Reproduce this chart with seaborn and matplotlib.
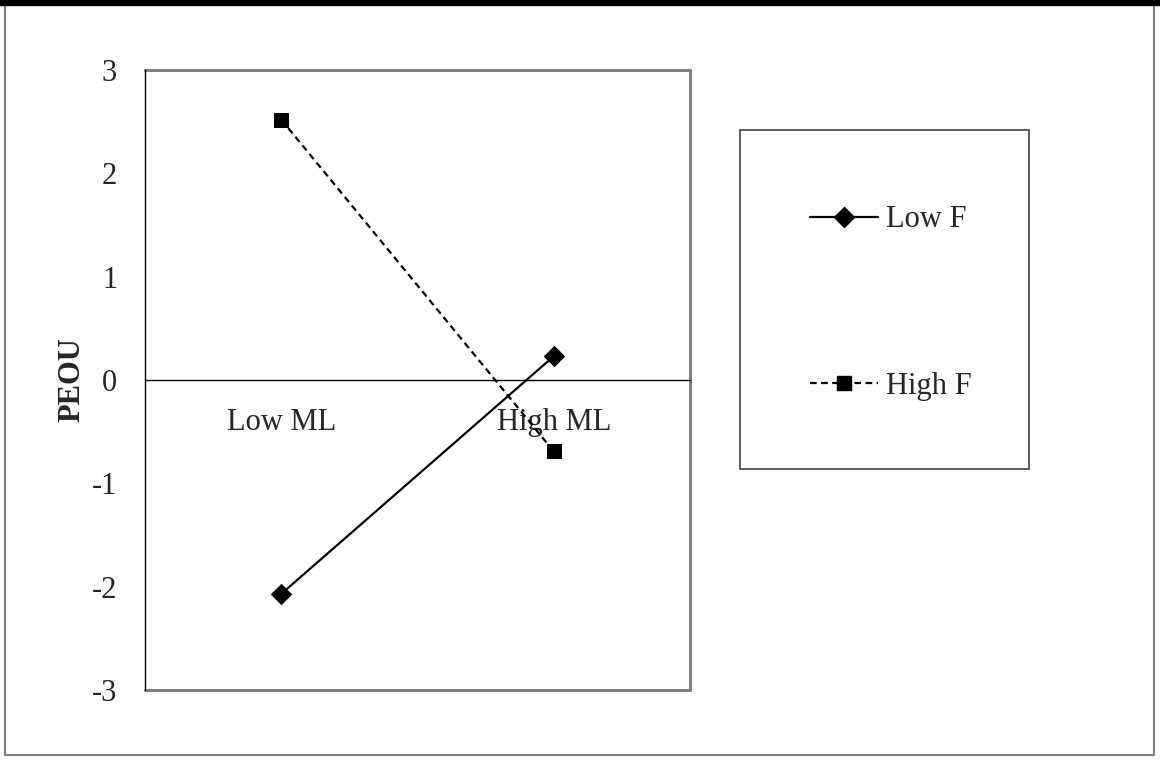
import matplotlib
matplotlib.use("Agg")
import matplotlib.pyplot as plt
import numpy as np
import pandas as pd
import seaborn as sns
from matplotlib.patches import Rectangle

# values
categories = ["Low ML", "High ML"]
low_f = [-2.07, 0.23]
high_f = [2.52, -0.69]
series_names = ["Low F", "High F"]
y_ticks = [-3, -2, -1, 0, 1, 2, 3]

df = pd.DataFrame(
    {
        "ML": categories * 2,
        "PEOU": low_f + high_f,
        "F": [series_names[0]] * 2 + [series_names[1]] * 2,
    }
)
df["pos"] = df["ML"].map({c: i for i, c in enumerate(categories)})

sns.set_style("white")
plt.rcParams["font.family"] = ["Liberation Serif", "DejaVu Serif"]
plt.rcParams["font.size"] = 22

fig = plt.figure(figsize=(11.6, 7.61), dpi=100)
ax = fig.add_axes([0.125, 0.0933, 0.4698, 0.8147])

sns.lineplot(
    data=df,
    x="pos",
    y="PEOU",
    hue="F",
    style="F",
    hue_order=series_names,
    style_order=series_names,
    palette=["black", "black"],
    markers={"Low F": "D", "High F": "s"},
    dashes={"Low F": "", "High F": (3, 2)},
    markersize=10.5,
    linewidth=1.6,
    markeredgecolor="black",
    ax=ax,
    legend=False,
)

ax.set_xlim(-0.5, 1.5)
ax.set_ylim(-3, 3)
ax.set_yticks(y_ticks)
ax.set_yticklabels([str(t) for t in y_ticks])

# category axis sits on the zero line
ax.spines["bottom"].set_position(("data", 0))
ax.spines["bottom"].set_color("black")
ax.spines["bottom"].set_linewidth(1.0)
ax.set_xticks([-0.5, 0.5, 1.5])
ax.set_xticklabels([])
ax.set_xticks(range(len(categories)), minor=True)
ax.set_xticklabels(categories, minor=True)
ax.tick_params(axis="x", which="major", direction="out", length=7, width=1, color="black")
ax.tick_params(axis="x", which="minor", length=0, pad=20, labelsize=22)
ax.tick_params(axis="y", direction="out", length=7, width=1, color="black", pad=13, labelsize=22)
ax.spines["left"].set_color("black")
ax.spines["left"].set_linewidth(1.0)
for s in ["top", "right"]:
    ax.spines[s].set_visible(False)

# gray plot-area border (top, right, bottom)
ax.plot([-0.5, 1.5, 1.5, -0.5], [3, 3, -3, -3], color="#808080", lw=2.2,
        clip_on=False, zorder=0.5)

ax.set_xlabel("")
ax.set_ylabel("PEOU", fontweight="bold", fontsize=22, labelpad=4)

# legend in its own box
fig.patches.append(Rectangle((740 / 1160, 1 - 469 / 761), 289 / 1160, 339 / 761,
                             transform=fig.transFigure, fill=False,
                             edgecolor="#404040", lw=1.2))
handles = [
    plt.Line2D([], [], color="black", lw=1.6, marker="D", markersize=10.5),
    plt.Line2D([], [], color="black", lw=1.6, ls=(0, (3, 2)), marker="s", markersize=10.5),
]
fig.legend(handles, series_names, loc="center left",
           bbox_to_anchor=(782 / 1160, 1 - 303 / 761), frameon=False,
           fontsize=22, labelspacing=4.5, handlelength=2.25, handletextpad=0.25)

# outer chart border and top bar
fig.patches.append(Rectangle((5 / 1160, 6 / 761), 1149 / 1160, 751 / 761,
                             transform=fig.transFigure, fill=False,
                             edgecolor="#808080", lw=1.5))
fig.patches.append(Rectangle((0, 1 - 5 / 761), 1, 5 / 761,
                             transform=fig.transFigure, color="black"))

fig.savefig("out.png", dpi=100)
